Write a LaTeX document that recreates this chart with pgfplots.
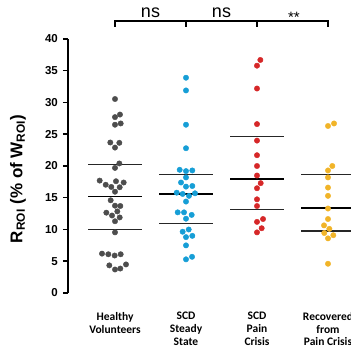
\documentclass[border=0pt]{standalone}
\usepackage{fontspec}
\setmainfont{Liberation Sans}
\newfontfamily\calibri{Carlito}
\usepackage{pgfplots}
\pgfplotsset{compat=1.18}
\definecolor{cgray}{RGB}{77,77,77}
\definecolor{cblue}{RGB}{22,158,214}
\definecolor{cred}{RGB}{214,39,40}
\definecolor{cyel}{RGB}{241,180,40}
\begin{document}
\begin{tikzpicture}
\useasboundingbox (0,0) rectangle (351pt,351pt);
\begin{axis}[
  at={(68pt,58pt)}, anchor=south west,
  scale only axis, width=283pt, height=254pt,
  xmin=0.338, xmax=4.324, ymin=0, ymax=40,
  axis y line*=left, axis x line*=bottom,
  x axis line style={draw=none},
  y axis line style={line width=1.5pt},
  xtick={1,2,3,4},
  xticklabels={Healthy\\Volunteers, SCD\\Steady\\State, SCD\\Pain\\Crisis, Recovered\\from\\Pain Crisis},
  xtick style={draw=none},
  xticklabel style={align=center, font=\fontsize{11.5}{12.8}\selectfont\calibri\bfseries, anchor=north, inner sep=0pt, yshift=-14pt},
  ytick={0,5,...,40},
  ytick style={line width=1.5pt, black},
  tick align=outside, major tick length=5pt,
  yticklabel style={font=\fontsize{11.5}{12}\selectfont\bfseries, anchor=east, inner sep=0pt, xshift=-5pt},
  /pgf/number format/assume math mode=true,
  ylabel={\textbf{R\textsubscript{ROI} (\% of W\textsubscript{ROI})}},
  ylabel style={font=\fontsize{17}{18}\selectfont, at={(axis description cs:-0.177,0.449)}, anchor=center},
  clip=false,
]
% Healthy Volunteers
\addplot[only marks, mark=*, mark size=2.7pt, mark options={draw=cgray, fill=cgray}] coordinates {
(1.000,30.55)
(1.070,28.1)(1.000,27.7)
(1.000,26.5)(1.080,26.7)
(0.934,23.7)(1.061,23.65)(1.000,22.9)
(1.061,20.4)(1.000,19.7)
(0.784,17.7)(0.869,17.05)(0.948,16.7)(1.014,17.6)(1.122,17.4)(1.066,16.65)(1.000,15.95)
(0.939,14.6)(1.000,13.75)(1.075,13.7)
(0.878,12.65)(0.958,12.2)(1.033,12.85)(1.066,11.9)(1.000,11.3)
(1.000,9.55)
(0.817,6.2)(0.906,6.1)(0.995,5.9)(1.080,6.1)
(0.920,4.35)(1.000,3.7)(1.075,3.85)(1.155,4.5)
};
% SCD Steady State
\addplot[only marks, mark=*, mark size=2.7pt, mark options={draw=cblue, fill=cblue}] coordinates {
(2,33.9)(2,31.9)(2,26.5)(2,22.8)
(1.911,19.4)(2,19.2)(2.089,19.3)
(2,18.2)
(1.930,17.4)(2,16.75)(2.089,16.85)
(1.869,15.8)(1.953,15.6)(2.042,15.3)(2.127,15.7)
(2,14.4)
(1.883,12.7)(1.972,12.7)(2.080,12.3)
(2,11.7)
(1.953,9.65)(2.038,10.0)(2.089,9.0)(2,8.8)
(2,7.5)
(2,5.3)(2.085,5.7)
};
% SCD Pain Crisis
\addplot[only marks, mark=*, mark size=2.7pt, mark options={draw=cred, fill=cred}] coordinates {
(3.047,36.7)(3,35.8)(3,32.2)(3,26.6)(3,24.0)(3,21.7)(3,20.0)(3,18.5)
(3.052,17.3)(3,16.5)(3,14.75)(3,13.7)(3.085,11.65)(3,11.2)(3.066,10.2)(3,9.55)
};
% Recovered
\addplot[only marks, mark=*, mark size=2.7pt, mark options={draw=cyel, fill=cyel}] coordinates {
(4,26.3)(4.085,26.7)(4.061,20.0)(4,19.3)(4,18.2)(4,16.6)(4,15.3)(4,13.3)
(4,11.65)(3.944,10.65)(4.019,10.1)(3.948,9.45)(4.075,9.1)(4,8.6)(4,4.6)
};
% medians and quartiles
\addplot[black, line width=1.8pt] coordinates {(0.62,15.2) (1.38,15.2)};
\addplot[black!85, line width=1.2pt] coordinates {(0.62,20.2) (1.38,20.2)};
\addplot[black!85, line width=1.2pt] coordinates {(0.62,10.0) (1.38,10.0)};
\addplot[black, line width=1.8pt] coordinates {(1.62,15.55) (2.38,15.55)};
\addplot[black!85, line width=1.2pt] coordinates {(1.62,18.7) (2.38,18.7)};
\addplot[black!85, line width=1.2pt] coordinates {(1.62,10.9) (2.38,10.9)};
\addplot[black, line width=1.8pt] coordinates {(2.62,17.9) (3.38,17.9)};
\addplot[black!85, line width=1.2pt] coordinates {(2.62,24.7) (3.38,24.7)};
\addplot[black!85, line width=1.2pt] coordinates {(2.62,13.2) (3.38,13.2)};
\addplot[black, line width=1.8pt] coordinates {(3.62,13.35) (4.38,13.35)};
\addplot[black!85, line width=1.2pt] coordinates {(3.62,18.7) (4.38,18.7)};
\addplot[black!85, line width=1.2pt] coordinates {(3.62,9.75) (4.38,9.75)};
% significance bracket
\draw[line width=1.1pt] (axis cs:1,41.9) -- (axis cs:1,42.83) -- (axis cs:4,42.83) -- (axis cs:4,41.9);
\draw[line width=1.1pt] (axis cs:2,41.9) -- (axis cs:2,42.83);
\draw[line width=1.1pt] (axis cs:3,41.9) -- (axis cs:3,42.83);
\node[anchor=base, inner sep=0pt, font=\fontsize{18}{20}\selectfont] at (axis cs:1.5,43.35) {ns};
\node[anchor=base, inner sep=0pt, font=\fontsize{18}{20}\selectfont] at (axis cs:2.5,43.35) {ns};
\node[anchor=base, inner sep=0pt, font=\fontsize{15}{16}\selectfont] at (axis cs:3.52,42.57) {**};
\end{axis}
\end{tikzpicture}
\end{document}
